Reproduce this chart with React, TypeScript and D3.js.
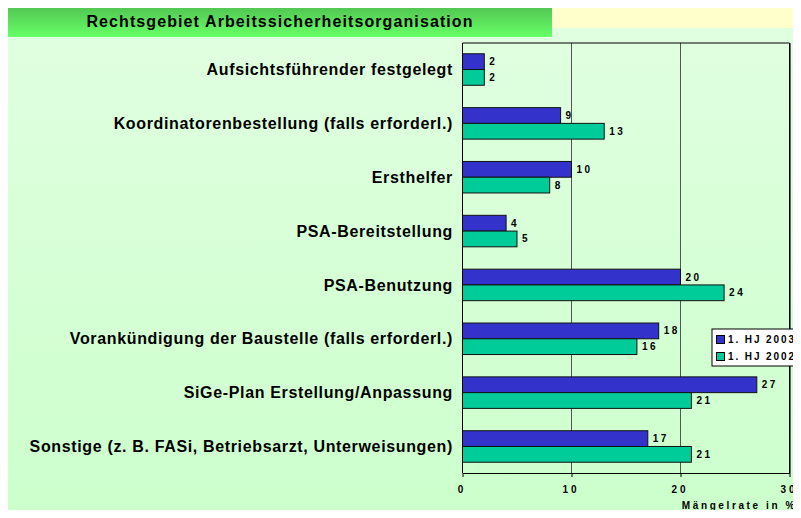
import { useEffect, useRef } from 'react';
import * as d3 from 'd3';

const categories = [
  'Aufsichtsführender festgelegt',
  'Koordinatorenbestellung (falls erforderl.)',
  'Ersthelfer',
  'PSA-Bereitstellung',
  'PSA-Benutzung',
  'Vorankündigung der Baustelle (falls erforderl.)',
  'SiGe-Plan Erstellung/Anpassung',
  'Sonstige (z. B. FASi, Betriebsarzt, Unterweisungen)',
];
const seriesNames = ['1. HJ 2003', '1. HJ 2002'];
const values2003 = [2, 9, 10, 4, 20, 18, 27, 17];
const values2002 = [2, 13, 8, 5, 24, 16, 21, 21];
const xTicks = [0, 10, 20, 30];
const colors = ['#3333cc', '#00cc99'];

const App = () => {
  const ref = useRef(null);

  useEffect(() => {
    const W = 801, H = 518;
    const font = '"Liberation Sans", Arial, sans-serif';
    const root = d3.select(ref.current);
    root.selectAll('*').remove();

    const svg = root.append('svg')
      .attr('width', W)
      .attr('height', H)
      .style('display', 'block');

    const defs = svg.append('defs');
    const pg = defs.append('linearGradient').attr('id', 'panelGrad')
      .attr('x1', 0).attr('y1', 0).attr('x2', 0).attr('y2', 1);
    pg.append('stop').attr('offset', '0%').attr('stop-color', '#e0ffe0');
    pg.append('stop').attr('offset', '100%').attr('stop-color', '#ccffcc');
    const tg = defs.append('linearGradient').attr('id', 'titleGrad')
      .attr('x1', 0).attr('y1', 0).attr('x2', 0).attr('y2', 1);
    tg.append('stop').attr('offset', '0%').attr('stop-color', '#52c452');
    tg.append('stop').attr('offset', '100%').attr('stop-color', '#66ff66');

    svg.append('rect').attr('width', W).attr('height', H).attr('fill', '#ffffcc');
    svg.append('rect').attr('x', 7).attr('y', 28).attr('width', W - 7).attr('height', H - 28)
      .attr('fill', 'url(#panelGrad)');
    svg.append('rect').attr('x', 7).attr('y', 6).attr('width', 545).attr('height', 31)
      .attr('fill', 'url(#titleGrad)');
    svg.append('text')
      .attr('x', 280).attr('y', 27)
      .attr('text-anchor', 'middle')
      .attr('font-family', font).attr('font-weight', 'bold').attr('font-size', 16)
      .attr('letter-spacing', 1.1)
      .text('Rechtsgebiet Arbeitssicherheitsorganisation');

    const left = 462.5, right = 789.5, top = 43, bottom = 473;
    const x = d3.scaleLinear().domain([0, 30]).range([left, right]);
    const y = d3.scaleBand().domain(categories).range([top, bottom]).paddingInner(0.415).paddingOuter(0.2);
    const sub = d3.scaleBand().domain(seriesNames).range([0, y.bandwidth()]);

    // gridlines
    svg.append('g').selectAll('line').data([10, 20]).join('line')
      .attr('x1', d => x(d)).attr('x2', d => x(d))
      .attr('y1', top).attr('y2', bottom)
      .attr('stroke', '#555').attr('stroke-width', 1);

    // frame
    svg.append('line').attr('x1', left).attr('x2', right).attr('y1', top).attr('y2', top)
      .attr('stroke', '#000').attr('stroke-width', 1);
    svg.append('line').attr('x1', right + 1).attr('x2', right + 1).attr('y1', top).attr('y2', bottom)
      .attr('stroke', '#666').attr('stroke-width', 1);
    svg.append('line').attr('x1', right).attr('x2', right).attr('y1', top).attr('y2', bottom)
      .attr('stroke', '#000').attr('stroke-width', 1);

    const series = [values2003, values2002];
    series.forEach((vals, si) => {
      const g = svg.append('g');
      g.selectAll('rect').data(vals).join('rect')
        .attr('x', x(0))
        .attr('y', (d, i) => y(categories[i]) + sub(seriesNames[si]))
        .attr('width', d => x(d) - x(0))
        .attr('height', sub.bandwidth())
        .attr('fill', colors[si])
        .attr('stroke', '#111')
        .attr('stroke-width', 1);
      g.selectAll('text').data(vals).join('text')
        .attr('x', d => x(d) + 5)
        .attr('y', (d, i) => y(categories[i]) + sub(seriesNames[si]) + sub.bandwidth() / 2)
        .attr('dy', '0.35em')
        .attr('font-family', font).attr('font-weight', 'bold').attr('font-size', 10)
        .attr('letter-spacing', 2.5)
        .text(d => d);
    });

    // category labels
    svg.append('g').selectAll('text').data(categories).join('text')
      .attr('x', 453)
      .attr('y', d => y(d) + y.bandwidth() / 2)
      .attr('dy', '0.35em')
      .attr('text-anchor', 'end')
      .attr('font-family', font).attr('font-weight', 'bold').attr('font-size', 16)
      .attr('letter-spacing', 0.65)
      .text(d => d);

    // axes
    const yAxis = svg.append('g').attr('transform', `translate(${left},0)`)
      .call(d3.axisLeft(y).tickSize(0).tickFormat(() => ''));
    yAxis.select('.domain').attr('stroke', '#000').attr('d', `M0,${top}V${bottom}`);

    const xAxis = svg.append('g').attr('transform', `translate(0,${bottom})`)
      .call(d3.axisBottom(x).tickValues(xTicks).tickSize(4).tickSizeOuter(0).tickPadding(9));
    xAxis.select('.domain').attr('stroke', '#000');
    xAxis.selectAll('line').attr('stroke', '#000');
    xAxis.selectAll('text')
      .attr('font-family', font).attr('font-weight', 'bold').attr('font-size', 10)
      .attr('letter-spacing', 3)
      .attr('dx', -1)
      .attr('fill', '#000');

    svg.append('text')
      .attr('x', 797).attr('y', 509)
      .attr('text-anchor', 'end')
      .attr('font-family', font).attr('font-weight', 'bold').attr('font-size', 10)
      .attr('letter-spacing', 2.6)
      .text('Mängelrate in %');

    // legend
    const leg = svg.append('g');
    leg.append('rect').attr('x', 712).attr('y', 329).attr('width', 100).attr('height', 37)
      .attr('fill', '#ffffff').attr('stroke', '#000').attr('stroke-width', 1);
    seriesNames.forEach((n, i) => {
      const ly = 339.5 + i * 17;
      leg.append('rect').attr('x', 716.5).attr('y', ly - 4).attr('width', 8).attr('height', 8)
        .attr('fill', colors[i]).attr('stroke', '#000').attr('stroke-width', 1);
      leg.append('text').attr('x', 728).attr('y', ly).attr('dy', '0.35em')
        .attr('font-family', font).attr('font-weight', 'bold').attr('font-size', 10)
        .attr('letter-spacing', 1.9)
        .text(n);
    });
  }, []);

  return <div ref={ref} style={{ margin: -8 }}></div>;
};

export default App;
